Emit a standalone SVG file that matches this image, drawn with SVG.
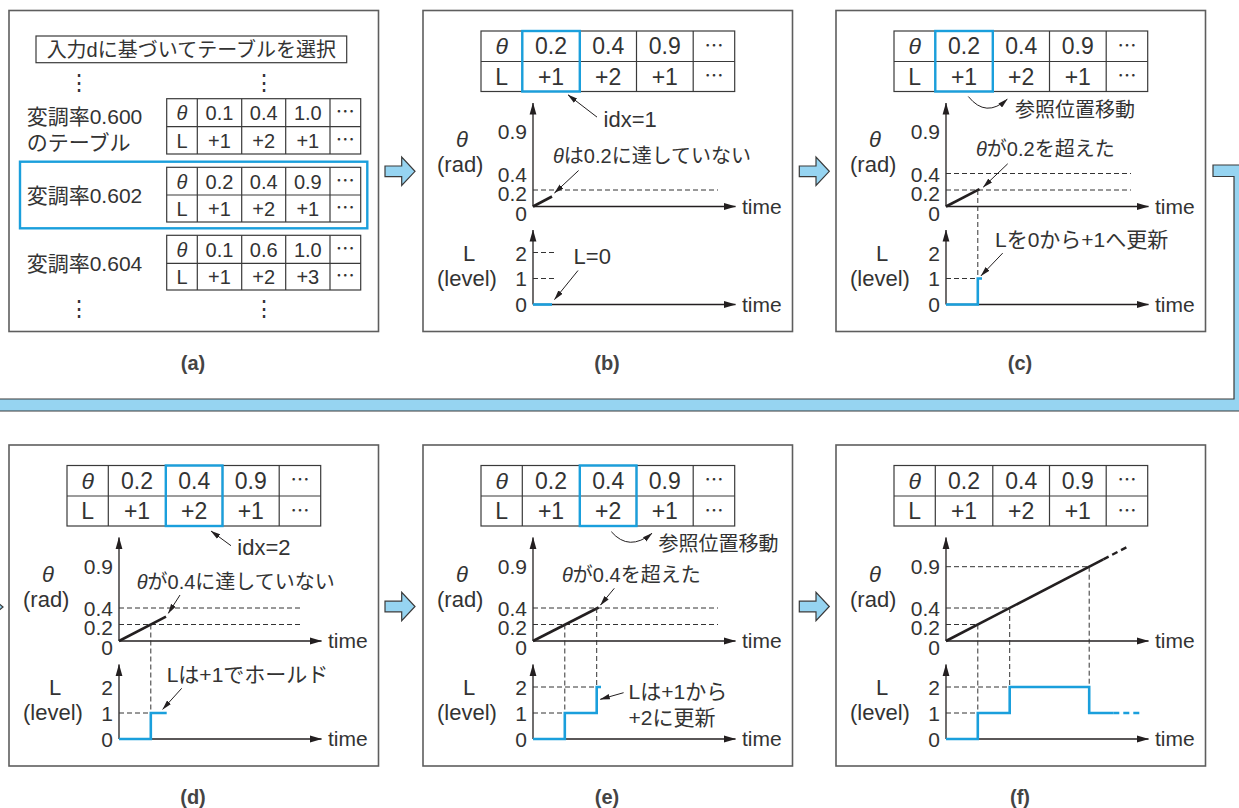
<svg xmlns="http://www.w3.org/2000/svg" width="1239" height="808" viewBox="0 0 1239 808">
<defs>
<style>
.box{fill:#fff;stroke:#5e5e5e;stroke-width:1.6}
.tb{fill:none;stroke:#3a3a3a;stroke-width:1.2}
.hl{fill:none;stroke:#1a9fdc;stroke-width:2.4}
.t{font-family:"Liberation Sans","Noto Sans CJK JP",sans-serif;fill:#333}
.c{text-anchor:middle}
.e{text-anchor:end}
.s20{font-size:20px}
.s21{font-size:21px}
.s22{font-size:22px}
.s23{font-size:23px}
.it{font-style:italic}
.dots{font-family:"Noto Sans CJK JP",sans-serif;font-size:19px;fill:#333;text-anchor:middle}
.vd{font-family:"Noto Sans CJK JP",sans-serif;font-size:22px;fill:#333;text-anchor:middle}
.ax{fill:none;stroke:#231f20;stroke-width:1.3}
.ds{fill:none;stroke:#333;stroke-width:1;stroke-dasharray:5 3}
.th{fill:none;stroke:#231f20;stroke-width:2.6}
.thd{fill:none;stroke:#231f20;stroke-width:2.4;stroke-dasharray:6 4}
.lv{fill:none;stroke:#1a9fdc;stroke-width:2.6}
.lvd{fill:none;stroke:#1a9fdc;stroke-width:2.6;stroke-dasharray:6 4}
.an{fill:none;stroke:#231f20;stroke-width:1}
.blk{fill:#96d4f1;stroke:#3a3a3a;stroke-width:1.2}
.lab{font-family:"Liberation Sans",sans-serif;font-size:20px;font-weight:bold;fill:#444;text-anchor:middle}
</style>
<marker id="ah" viewBox="0 0 10 6" refX="9.5" refY="3" markerWidth="10" markerHeight="6" markerUnits="userSpaceOnUse" orient="auto"><path d="M0,0.3 L10,3 L0,5.7 z" fill="#231f20"/></marker>
<marker id="axm" viewBox="0 0 12 8" refX="11.5" refY="4" markerWidth="12" markerHeight="8" markerUnits="userSpaceOnUse" orient="auto"><path d="M0,0.6 L12,4 L0,7.4 z" fill="#231f20"/></marker>
<path id="barrow" d="M0,-5.3 H16.7 V-14.2 L30,0 L16.7,14.2 V5.3 H0 Z"/>
</defs>
<rect width="1239" height="808" fill="#fff"/>

<g id="connectors">
<polygon class="blk" points="1213,165 1246,165 1246,411 -5,411 -5,399 1234,399 1234,176.5 1213,176.5"/>
<polygon class="blk" points="-14,593 3,607 -14,621"/>
<use href="#barrow" class="blk" x="385" y="171.3"/>
<use href="#barrow" class="blk" x="799.3" y="171.3"/>
<use href="#barrow" class="blk" x="385" y="606.5"/>
<use href="#barrow" class="blk" x="799.3" y="606.5"/>
</g>

<g id="panel-a">
<rect class="box" x="9" y="10.5" width="369.5" height="321"/>
<rect class="tb" x="36" y="36" width="310.7" height="26.7"/>
<text class="t s20 c" x="191.3" y="56.5">入力dに基づいてテーブルを選択</text>
<text class="vd" x="79" y="89.5">⋮</text>
<text class="vd" x="264" y="89.5">⋮</text>
<text class="vd" x="79" y="316">⋮</text>
<text class="vd" x="264" y="316">⋮</text>
<text class="t s21" x="26.7" y="124">変調率0.600</text>
<text class="t s21" x="26.7" y="150">のテーブル</text>
<text class="t s21" x="26.7" y="203">変調率0.602</text>
<text class="t s21" x="26.7" y="270.5">変調率0.604</text>
<rect class="hl" x="20" y="161.7" width="347.3" height="66.6"/>
<g id="table-600">
<rect class="tb" x="166.7" y="98.7" width="194" height="55.3"/>
<path class="tb" d="M166.7,126.7H360.7M197.3,98.7V154M241.7,98.7V154M285.7,98.7V154M330,98.7V154"/>
<text class="t s20 c it" x="182" y="120">θ</text><text class="t s20 c" x="219.5" y="120">0.1</text><text class="t s20 c" x="263.7" y="120">0.4</text><text class="t s20 c" x="307.8" y="120">1.0</text><text class="dots" x="345.3" y="119">⋯</text>
<text class="t s20 c" x="182" y="148">L</text><text class="t s20 c" x="219.5" y="148">+1</text><text class="t s20 c" x="263.7" y="148">+2</text><text class="t s20 c" x="307.8" y="148">+1</text><text class="dots" x="345.3" y="147">⋯</text>
</g>
<g id="table-602">
<rect class="tb" x="166.7" y="167.3" width="194" height="54.7"/>
<path class="tb" d="M166.7,195H360.7M197.3,167.3V222M241.7,167.3V222M285.7,167.3V222M330,167.3V222"/>
<text class="t s20 c it" x="182" y="188.5">θ</text><text class="t s20 c" x="219.5" y="188.5">0.2</text><text class="t s20 c" x="263.7" y="188.5">0.4</text><text class="t s20 c" x="307.8" y="188.5">0.9</text><text class="dots" x="345.3" y="187.5">⋯</text>
<text class="t s20 c" x="182" y="216">L</text><text class="t s20 c" x="219.5" y="216">+1</text><text class="t s20 c" x="263.7" y="216">+2</text><text class="t s20 c" x="307.8" y="216">+1</text><text class="dots" x="345.3" y="215">⋯</text>
</g>
<g id="table-604">
<rect class="tb" x="166.7" y="235.3" width="194" height="54.7"/>
<path class="tb" d="M166.7,263.3H360.7M197.3,235.3V290M241.7,235.3V290M285.7,235.3V290M330,235.3V290"/>
<text class="t s20 c it" x="182" y="256.5">θ</text><text class="t s20 c" x="219.5" y="256.5">0.1</text><text class="t s20 c" x="263.7" y="256.5">0.6</text><text class="t s20 c" x="307.8" y="256.5">1.0</text><text class="dots" x="345.3" y="255.5">⋯</text>
<text class="t s20 c" x="182" y="284">L</text><text class="t s20 c" x="219.5" y="284">+1</text><text class="t s20 c" x="263.7" y="284">+2</text><text class="t s20 c" x="307.8" y="284">+3</text><text class="dots" x="345.3" y="283">⋯</text>
</g>
<text class="lab" x="193" y="370">(a)</text>
</g>

<g id="panel-b" transform="translate(423,10.5)">
<rect class="box" x="0" y="0" width="369.5" height="321"/>
<rect class="tb" x="58" y="20.5" width="253.7" height="60.5"/>
<path class="tb" d="M58,51H311.7M99.3,20.5V81M156.8,20.5V81M213.5,20.5V81M270.2,20.5V81"/>
<text class="t s23 c it" x="78.7" y="43.5">θ</text><text class="t s23 c" x="128" y="43.5">0.2</text><text class="t s23 c" x="185.2" y="43.5">0.4</text><text class="t s23 c" x="241.8" y="43.5">0.9</text><text class="dots" x="291" y="42">⋯</text>
<text class="t s23 c" x="78.7" y="74">L</text><text class="t s23 c" x="128" y="74">+1</text><text class="t s23 c" x="185.2" y="74">+2</text><text class="t s23 c" x="241.8" y="74">+1</text><text class="dots" x="291" y="72.5">⋯</text>
<rect class="hl" x="99.3" y="20.5" width="57.5" height="60.5"/>
<path class="ax" d="M110,196V92.5" marker-end="url(#axm)"/>
<path class="ax" d="M110,196H312.5" marker-end="url(#axm)"/>
<path class="ax" d="M110,294V219.5" marker-end="url(#axm)"/>
<path class="ax" d="M110,294H312.5" marker-end="url(#axm)"/>
<text class="t s21" x="319" y="203">time</text><text class="t s21" x="319" y="301">time</text>
<text class="t s22 it" x="33" y="136.5">θ</text><text class="t s22" x="14" y="161.5">(rad)</text>
<text class="t s22" x="40" y="250">L</text><text class="t s22" x="14" y="275">(level)</text>
<text class="t s21 e" x="104" y="128.5">0.9</text><text class="t s21 e" x="104" y="171">0.4</text><text class="t s21 e" x="104" y="190">0.2</text><text class="t s21 e" x="104" y="210">0</text>
<text class="t s21 e" x="104" y="250">2</text><text class="t s21 e" x="104" y="275.5">1</text><text class="t s21 e" x="104" y="301.5">0</text>
<path class="ds" d="M110,179.5H295"/>
<path class="th" d="M110,196L129,186"/>
<path class="ds" d="M110,242H131M110,268H131"/>
<path class="lv" d="M110,294H129"/>
<path class="an" d="M174,106.6L145,84.3" marker-end="url(#ah)"/>
<text class="t s22" x="180.6" y="116">idx=1</text>
<text class="t s20" x="130" y="152.6"><tspan class="it">θ</tspan>は0.2に達していない</text>
<path class="an" d="M155.6,160L131.5,182.5" marker-end="url(#ah)"/>
<text class="t s22" x="150.6" y="253.3">L=0</text>
<path class="an" d="M155,260L131.5,289" marker-end="url(#ah)"/>
<text class="lab" x="184" y="359.5">(b)</text>
</g>

<g id="panel-c" transform="translate(836,10.5)">
<rect class="box" x="0" y="0" width="369.5" height="321"/>
<rect class="tb" x="58" y="20.5" width="253.7" height="60.5"/>
<path class="tb" d="M58,51H311.7M99.3,20.5V81M156.8,20.5V81M213.5,20.5V81M270.2,20.5V81"/>
<text class="t s23 c it" x="78.7" y="43.5">θ</text><text class="t s23 c" x="128" y="43.5">0.2</text><text class="t s23 c" x="185.2" y="43.5">0.4</text><text class="t s23 c" x="241.8" y="43.5">0.9</text><text class="dots" x="291" y="42">⋯</text>
<text class="t s23 c" x="78.7" y="74">L</text><text class="t s23 c" x="128" y="74">+1</text><text class="t s23 c" x="185.2" y="74">+2</text><text class="t s23 c" x="241.8" y="74">+1</text><text class="dots" x="291" y="72.5">⋯</text>
<rect class="hl" x="99.3" y="20.5" width="57.5" height="60.5"/>
<path class="ax" d="M110,196V92.5" marker-end="url(#axm)"/>
<path class="ax" d="M110,196H312.5" marker-end="url(#axm)"/>
<path class="ax" d="M110,294V219.5" marker-end="url(#axm)"/>
<path class="ax" d="M110,294H312.5" marker-end="url(#axm)"/>
<text class="t s21" x="319" y="203">time</text><text class="t s21" x="319" y="301">time</text>
<text class="t s22 it" x="33" y="136.5">θ</text><text class="t s22" x="14" y="161.5">(rad)</text>
<text class="t s22" x="40" y="250">L</text><text class="t s22" x="14" y="275">(level)</text>
<text class="t s21 e" x="104" y="128.5">0.9</text><text class="t s21 e" x="104" y="171">0.4</text><text class="t s21 e" x="104" y="190">0.2</text><text class="t s21 e" x="104" y="210">0</text>
<text class="t s21 e" x="104" y="250">2</text><text class="t s21 e" x="104" y="275.5">1</text><text class="t s21 e" x="104" y="301.5">0</text>
<path class="ds" d="M110,163H295M110,179.5H295"/>
<path class="th" d="M110,196L143.5,178.7"/>
<path class="ds" d="M141.8,179.5V268M110,268H141.8"/>
<path class="lv" d="M110,294H141.8V268H146"/>
<path class="an" d="M132.3,86Q150,108 171.3,88.6" marker-end="url(#ah)"/>
<text class="t s20" x="179" y="106">参照位置移動</text>
<text class="t s20" x="140" y="145.3"><tspan class="it">θ</tspan>が0.2を超えた</text>
<path class="an" d="M171.7,153.3L147.3,176.6" marker-end="url(#ah)"/>
<text class="t s21" x="159" y="236">Lを0から+1へ更新</text>
<path class="an" d="M166.7,242.6L145,265.3" marker-end="url(#ah)"/>
<text class="lab" x="184" y="359.5">(c)</text>
</g>

<g id="panel-d" transform="translate(9,445)">
<rect class="box" x="0" y="0" width="369.5" height="321"/>
<rect class="tb" x="58" y="20.5" width="253.7" height="60.5"/>
<path class="tb" d="M58,51H311.7M99.3,20.5V81M156.8,20.5V81M213.5,20.5V81M270.2,20.5V81"/>
<text class="t s23 c it" x="78.7" y="43.5">θ</text><text class="t s23 c" x="128" y="43.5">0.2</text><text class="t s23 c" x="185.2" y="43.5">0.4</text><text class="t s23 c" x="241.8" y="43.5">0.9</text><text class="dots" x="291" y="42">⋯</text>
<text class="t s23 c" x="78.7" y="74">L</text><text class="t s23 c" x="128" y="74">+1</text><text class="t s23 c" x="185.2" y="74">+2</text><text class="t s23 c" x="241.8" y="74">+1</text><text class="dots" x="291" y="72.5">⋯</text>
<rect class="hl" x="156.8" y="20.5" width="56.7" height="60.5"/>
<path class="ax" d="M110,196V92.5" marker-end="url(#axm)"/>
<path class="ax" d="M110,196H312.5" marker-end="url(#axm)"/>
<path class="ax" d="M110,294V219.5" marker-end="url(#axm)"/>
<path class="ax" d="M110,294H312.5" marker-end="url(#axm)"/>
<text class="t s21" x="319" y="203">time</text><text class="t s21" x="319" y="301">time</text>
<text class="t s22 it" x="33" y="136.5">θ</text><text class="t s22" x="14" y="161.5">(rad)</text>
<text class="t s22" x="40" y="250">L</text><text class="t s22" x="14" y="275">(level)</text>
<text class="t s21 e" x="104" y="128.5">0.9</text><text class="t s21 e" x="104" y="171">0.4</text><text class="t s21 e" x="104" y="190">0.2</text><text class="t s21 e" x="104" y="210">0</text>
<text class="t s21 e" x="104" y="250">2</text><text class="t s21 e" x="104" y="275.5">1</text><text class="t s21 e" x="104" y="301.5">0</text>
<path class="ds" d="M110,163H294M110,179.5H294"/>
<path class="th" d="M110,196L157,171.7"/>
<path class="ds" d="M141.8,179.5V268M110,268H141.8"/>
<path class="lv" d="M110,294H141.8V268H157.7"/>
<path class="an" d="M222,100.7L202,86" marker-end="url(#ah)"/>
<text class="t s22" x="228.3" y="110">idx=2</text>
<text class="t s20" x="127.7" y="144.3"><tspan class="it">θ</tspan>が0.4に達していない</text>
<path class="an" d="M171,150L159.3,168.3" marker-end="url(#ah)"/>
<text class="t s21" x="157.7" y="236.7">Lは+1でホールド</text>
<path class="an" d="M172.7,243.3L153.7,264.3" marker-end="url(#ah)"/>
<text class="lab" x="184" y="359">(d)</text>
</g>

<g id="panel-e" transform="translate(423,445)">
<rect class="box" x="0" y="0" width="369.5" height="321"/>
<rect class="tb" x="58" y="20.5" width="253.7" height="60.5"/>
<path class="tb" d="M58,51H311.7M99.3,20.5V81M156.8,20.5V81M213.5,20.5V81M270.2,20.5V81"/>
<text class="t s23 c it" x="78.7" y="43.5">θ</text><text class="t s23 c" x="128" y="43.5">0.2</text><text class="t s23 c" x="185.2" y="43.5">0.4</text><text class="t s23 c" x="241.8" y="43.5">0.9</text><text class="dots" x="291" y="42">⋯</text>
<text class="t s23 c" x="78.7" y="74">L</text><text class="t s23 c" x="128" y="74">+1</text><text class="t s23 c" x="185.2" y="74">+2</text><text class="t s23 c" x="241.8" y="74">+1</text><text class="dots" x="291" y="72.5">⋯</text>
<rect class="hl" x="156.8" y="20.5" width="56.7" height="60.5"/>
<path class="ax" d="M110,196V92.5" marker-end="url(#axm)"/>
<path class="ax" d="M110,196H312.5" marker-end="url(#axm)"/>
<path class="ax" d="M110,294V219.5" marker-end="url(#axm)"/>
<path class="ax" d="M110,294H312.5" marker-end="url(#axm)"/>
<text class="t s21" x="319" y="203">time</text><text class="t s21" x="319" y="301">time</text>
<text class="t s22 it" x="33" y="136.5">θ</text><text class="t s22" x="14" y="161.5">(rad)</text>
<text class="t s22" x="40" y="250">L</text><text class="t s22" x="14" y="275">(level)</text>
<text class="t s21 e" x="104" y="128.5">0.9</text><text class="t s21 e" x="104" y="171">0.4</text><text class="t s21 e" x="104" y="190">0.2</text><text class="t s21 e" x="104" y="210">0</text>
<text class="t s21 e" x="104" y="250">2</text><text class="t s21 e" x="104" y="275.5">1</text><text class="t s21 e" x="104" y="301.5">0</text>
<path class="ds" d="M110,163H295M110,179.5H295"/>
<path class="th" d="M110,196L175.6,162.5"/>
<path class="ds" d="M141.8,179.5V268M173.7,163V242M110,242H173.7M110,268H141.8"/>
<path class="lv" d="M110,294H141.8V268H173.7V242H178"/>
<path class="an" d="M188.3,86.7Q206,107 229,88.3" marker-end="url(#ah)"/>
<text class="t s20" x="235.6" y="106">参照位置移動</text>
<text class="t s20" x="139" y="136.7"><tspan class="it">θ</tspan>が0.4を超えた</text>
<path class="an" d="M191.3,143.3L177.5,160" marker-end="url(#ah)"/>
<text class="t s21" x="205.6" y="254.3">Lは+1から</text>
<text class="t s21" x="205.6" y="280">+2に更新</text>
<path class="an" d="M200.6,247.7L177.3,254.3" marker-end="url(#ah)"/>
<text class="lab" x="184" y="359">(e)</text>
</g>

<g id="panel-f" transform="translate(836,445)">
<rect class="box" x="0" y="0" width="369.5" height="321"/>
<rect class="tb" x="58" y="20.5" width="253.7" height="60.5"/>
<path class="tb" d="M58,51H311.7M99.3,20.5V81M156.8,20.5V81M213.5,20.5V81M270.2,20.5V81"/>
<text class="t s23 c it" x="78.7" y="43.5">θ</text><text class="t s23 c" x="128" y="43.5">0.2</text><text class="t s23 c" x="185.2" y="43.5">0.4</text><text class="t s23 c" x="241.8" y="43.5">0.9</text><text class="dots" x="291" y="42">⋯</text>
<text class="t s23 c" x="78.7" y="74">L</text><text class="t s23 c" x="128" y="74">+1</text><text class="t s23 c" x="185.2" y="74">+2</text><text class="t s23 c" x="241.8" y="74">+1</text><text class="dots" x="291" y="72.5">⋯</text>
<path class="ax" d="M110,196V92.5" marker-end="url(#axm)"/>
<path class="ax" d="M110,196H312.5" marker-end="url(#axm)"/>
<path class="ax" d="M110,294V219.5" marker-end="url(#axm)"/>
<path class="ax" d="M110,294H312.5" marker-end="url(#axm)"/>
<text class="t s21" x="319" y="203">time</text><text class="t s21" x="319" y="301">time</text>
<text class="t s22 it" x="33" y="136.5">θ</text><text class="t s22" x="14" y="161.5">(rad)</text>
<text class="t s22" x="40" y="250">L</text><text class="t s22" x="14" y="275">(level)</text>
<text class="t s21 e" x="104" y="128.5">0.9</text><text class="t s21 e" x="104" y="171">0.4</text><text class="t s21 e" x="104" y="190">0.2</text><text class="t s21 e" x="104" y="210">0</text>
<text class="t s21 e" x="104" y="250">2</text><text class="t s21 e" x="104" y="275.5">1</text><text class="t s21 e" x="104" y="301.5">0</text>
<path class="ds" d="M110,121.7H253.2M110,163H173.7M110,179.5H141.8"/>
<path class="th" d="M110,196L267.3,114.4"/>
<path class="thd" d="M267.3,114.4L291.3,101.9"/>
<path class="ds" d="M141.8,179.5V268M173.7,163V242M253.2,121.7V242M110,242H173.7M110,268H141.8"/>
<path class="lv" d="M110,294H141.8V268H173.7V242H253.2V268H277.3"/>
<path class="lvd" d="M277.3,268H305.7"/>
<text class="lab" x="184" y="359">(f)</text>
</g>
</svg>
